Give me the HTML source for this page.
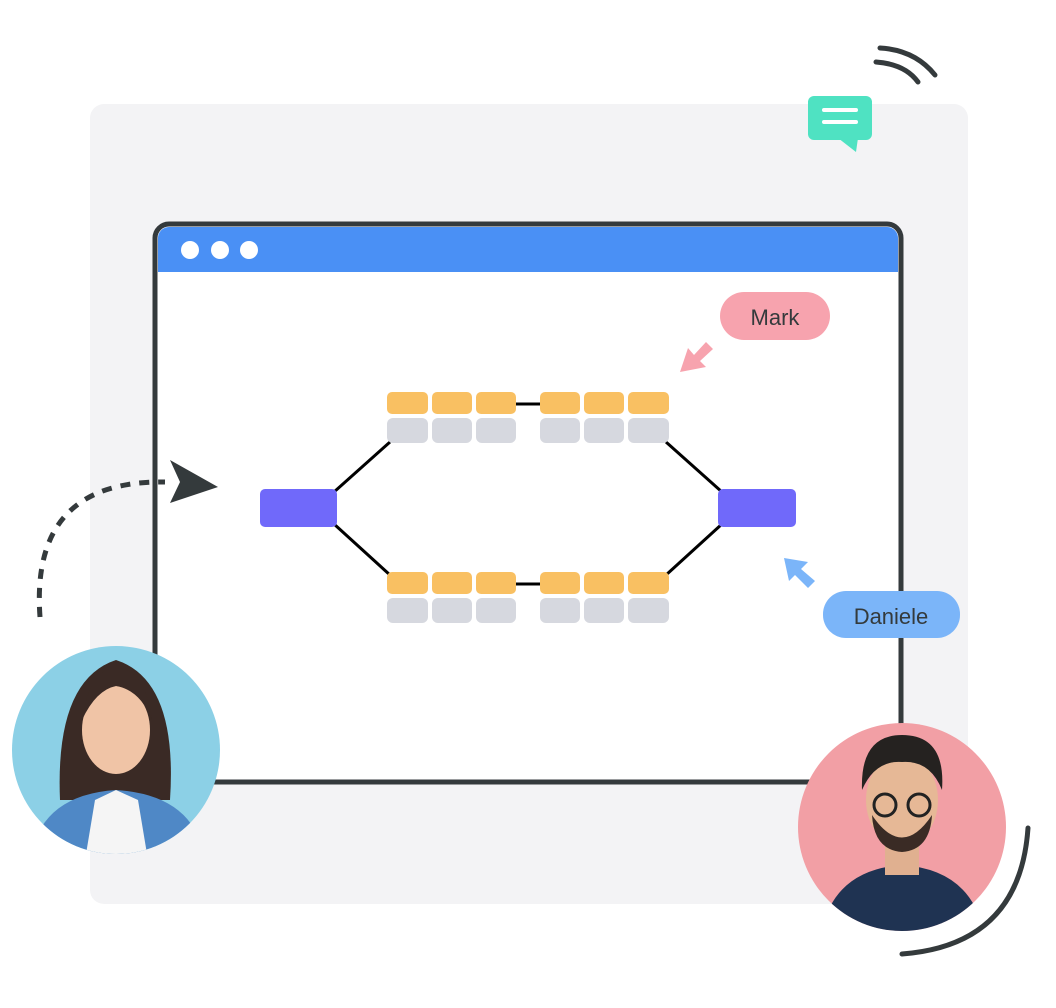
<!DOCTYPE html>
<html><head><style>html,body{margin:0;padding:0;background:#fff}</style></head>
<body>
<svg width="1056" height="1008" xmlns="http://www.w3.org/2000/svg" style="display:block">
<rect x="90" y="104" width="878" height="800" rx="14" fill="#f3f3f5"/>
<!-- window -->
<rect x="155" y="224" width="746" height="558" rx="14" fill="#fff" stroke="#343a3c" stroke-width="5"/>
<path d="M158 272 V238 a11 11 0 0 1 11 -11 H887 a11 11 0 0 1 11 11 V272 Z" fill="#4a90f5"/>
<circle cx="190" cy="250" r="9" fill="#fff"/><circle cx="220" cy="250" r="9" fill="#fff"/><circle cx="249" cy="250" r="9" fill="#fff"/>
<!-- lines -->
<g stroke="#000" stroke-width="3" fill="none">
<path d="M334 492 L390 442"/><path d="M334 524 L390 575"/>
<path d="M516 404 H540"/><path d="M516 584 H540"/>
<path d="M666 442 L722 492"/><path d="M666 575 L722 524"/>
</g>
<rect x="260" y="489" width="77" height="38" rx="5" fill="#7069fa"/>
<rect x="718" y="489" width="78" height="38" rx="5" fill="#7069fa"/>
<g fill="#f9c062">
<rect x="387" y="392" width="41" height="22" rx="5"/><rect x="432" y="392" width="40" height="22" rx="5"/><rect x="476" y="392" width="40" height="22" rx="5"/>
<rect x="540" y="392" width="40" height="22" rx="5"/><rect x="584" y="392" width="40" height="22" rx="5"/><rect x="628" y="392" width="41" height="22" rx="5"/>
<rect x="387" y="572" width="41" height="22" rx="5"/><rect x="432" y="572" width="40" height="22" rx="5"/><rect x="476" y="572" width="40" height="22" rx="5"/>
<rect x="540" y="572" width="40" height="22" rx="5"/><rect x="584" y="572" width="40" height="22" rx="5"/><rect x="628" y="572" width="41" height="22" rx="5"/>
</g>
<g fill="#d6d8df">
<rect x="387" y="418" width="41" height="25" rx="6"/><rect x="432" y="418" width="40" height="25" rx="6"/><rect x="476" y="418" width="40" height="25" rx="6"/>
<rect x="540" y="418" width="40" height="25" rx="6"/><rect x="584" y="418" width="40" height="25" rx="6"/><rect x="628" y="418" width="41" height="25" rx="6"/>
<rect x="387" y="598" width="41" height="25" rx="6"/><rect x="432" y="598" width="40" height="25" rx="6"/><rect x="476" y="598" width="40" height="25" rx="6"/>
<rect x="540" y="598" width="40" height="25" rx="6"/><rect x="584" y="598" width="40" height="25" rx="6"/><rect x="628" y="598" width="41" height="25" rx="6"/>
</g>
<!-- Mark -->
<rect x="720" y="292" width="110" height="48" rx="24" fill="#f7a3ae"/>
<text x="775" y="325" text-anchor="middle" font-family="Liberation Sans, sans-serif" font-size="22" fill="#343a3c">Mark</text>
<path d="M680 372 L688 348 L694 355 L706 342 L713 349 L700 361 L706 367 Z" fill="#f7a3ae"/>
<!-- Daniele -->
<rect x="823" y="591" width="137" height="47" rx="23" fill="#7bb5f9"/>
<text x="891" y="624" text-anchor="middle" font-family="Liberation Sans, sans-serif" font-size="22" fill="#343a3c">Daniele</text>
<path d="M784 558 L808 562 L801 569 L815 581 L808 588 L795 575 L789 581 Z" fill="#7bb5f9"/>
<!-- chat -->
<rect x="808" y="96" width="64" height="44" rx="6" fill="#4fe2c2"/>
<path d="M838 138 H858 L856 152 Z" fill="#4fe2c2"/>
<rect x="822" y="108" width="36" height="4" rx="2" fill="#fff"/><rect x="822" y="120" width="36" height="4" rx="2" fill="#fff"/>
<g stroke="#343a3c" stroke-width="5" stroke-linecap="round" fill="none">
<path d="M880 48 Q915 50 935 75"/><path d="M876 62 Q905 64 918 82"/>
<path d="M902 954 Q1020 945 1028 828"/>
</g>
<!-- dashed arrow -->
<path d="M40 617 Q30 480 165 482" stroke="#343a3c" stroke-width="5" fill="none" stroke-dasharray="10 9"/>
<path d="M170 460 L218 487 L170 503 L180 482 Z" fill="#343a3c"/>
<!-- avatar 1 -->
<clipPath id="c1"><circle cx="116" cy="750" r="104"/></clipPath>
<circle cx="116" cy="750" r="104" fill="#8cd0e6"/>
<g clip-path="url(#c1)">
<path d="M60 800 Q55 680 116 660 Q178 680 170 800 Z" fill="#3a2a25"/>
<ellipse cx="116" cy="730" rx="34" ry="44" fill="#f0c4a6"/>
<path d="M82 720 Q90 668 116 668 Q145 668 152 720 Q140 690 116 686 Q96 690 82 720Z" fill="#3a2a25"/>
<path d="M30 860 Q40 795 116 790 Q195 795 205 860 Z" fill="#4f88c6"/>
<path d="M85 860 L95 800 L116 790 L138 800 L148 860Z" fill="#f5f5f5"/>
</g>
<!-- avatar 2 -->
<clipPath id="c2"><circle cx="902" cy="827" r="104"/></clipPath>
<circle cx="902" cy="827" r="104" fill="#f29fa5"/>
<g clip-path="url(#c2)">
<path d="M820 940 Q830 870 902 865 Q975 870 985 940Z" fill="#1f3352"/>
<rect x="885" y="840" width="34" height="35" fill="#e0b090"/>
<ellipse cx="902" cy="800" rx="36" ry="46" fill="#e6b896"/>
<path d="M862 790 Q860 735 902 735 Q946 735 942 790 Q930 760 902 762 Q875 760 862 790Z" fill="#252220"/>
<path d="M872 815 Q902 860 932 815 Q930 850 902 852 Q874 850 872 815Z" fill="#3a2b25"/>
<circle cx="885" cy="805" r="11" fill="none" stroke="#222" stroke-width="3"/><circle cx="919" cy="805" r="11" fill="none" stroke="#222" stroke-width="3"/>
</g>
</svg>
</body></html>
